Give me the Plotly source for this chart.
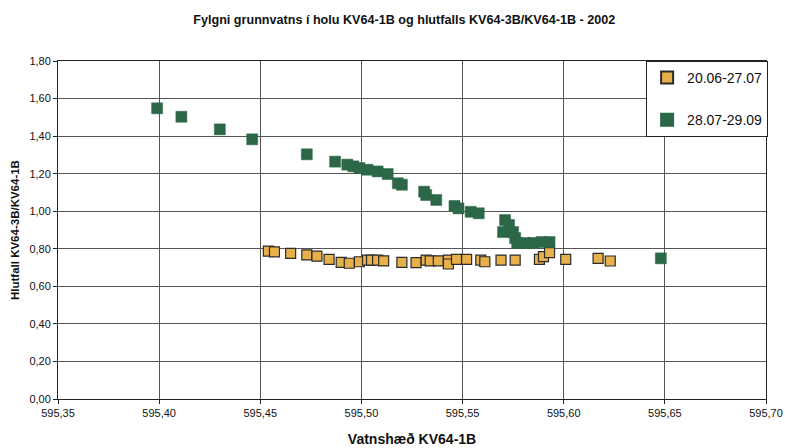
import plotly.graph_objects as go

# 20.06-27.07 series
x_jun = [595.454, 595.457, 595.465, 595.473, 595.478, 595.484, 595.490, 595.494, 595.499,
         595.503, 595.505, 595.508, 595.511, 595.520, 595.527, 595.532, 595.534, 595.538,
         595.543, 595.543, 595.547, 595.552, 595.559, 595.561, 595.569, 595.576, 595.588,
         595.590, 595.593, 595.601, 595.617, 595.623]
y_jun = [0.787, 0.784, 0.776, 0.767, 0.761, 0.744, 0.728, 0.723, 0.731,
         0.740, 0.740, 0.740, 0.736, 0.728, 0.726, 0.740, 0.736, 0.736,
         0.740, 0.719, 0.744, 0.744, 0.740, 0.731, 0.740, 0.740, 0.744,
         0.758, 0.779, 0.744, 0.749, 0.735]

# 28.07-29.09 series
x_sep = [595.399, 595.411, 595.430, 595.446, 595.473, 595.487, 595.493, 595.496, 595.499,
         595.503, 595.508, 595.513, 595.518, 595.520, 595.531, 595.532, 595.537, 595.546,
         595.548, 595.554, 595.558, 595.571, 595.573, 595.570, 595.575, 595.576, 595.577,
         595.581, 595.585, 595.589, 595.593, 595.648]
y_sep = [1.548, 1.503, 1.436, 1.383, 1.303, 1.264, 1.248, 1.239, 1.230,
         1.221, 1.212, 1.198, 1.149, 1.141, 1.104, 1.086, 1.060, 1.028,
         1.015, 0.997, 0.989, 0.953, 0.927, 0.889, 0.889, 0.857, 0.831,
         0.831, 0.831, 0.836, 0.836, 0.749]

title = "Fylgni grunnvatns í holu KV64-1B og hlutfalls KV64-3B/KV64-1B - 2002"
x_title = "Vatnshæð KV64-1B"
y_title = "Hlutfall KV64-3B/KV64-1B"

FONT = "Liberation Sans, Arial, sans-serif"

fig = go.Figure()
fig.add_trace(go.Scatter(
    x=x_jun, y=y_jun, mode="markers", name="20.06-27.07", legendgroup="a",
    marker=dict(symbol="square", size=10, color="#E8B04A",
                line=dict(color="#2b2b2b", width=1.2)),
))
fig.add_trace(go.Scatter(
    x=x_sep, y=y_sep, mode="markers", name="28.07-29.09", legendgroup="b",
    marker=dict(symbol="square", size=11, color="#2C6847",
                line=dict(color="#2C6847", width=0.5)),
))

fig.update_layout(
    width=785, height=448,
    margin=dict(l=58, r=19, t=61, b=49),
    paper_bgcolor="white", plot_bgcolor="white",
    separators=", ",
    font=dict(family=FONT, size=11, color="#111"),
    title=dict(text="<b>" + title + "</b>", x=0.515, xanchor="center",
               y=1 - 20 / 448, yanchor="middle", font=dict(size=12.6, family=FONT)),
    showlegend=True,
    legend=dict(x=1.003, xanchor="right", y=1, yanchor="top",
                bgcolor="white", bordercolor="#222", borderwidth=1,
                font=dict(size=14, family=FONT), tracegroupgap=21,
                traceorder="grouped", itemsizing="constant", itemwidth=30),
    annotations=[dict(text="<b>" + y_title + "</b>", textangle=-90,
                      xref="paper", yref="paper", x=-0.0607, y=0.5,
                      xanchor="center", yanchor="middle", showarrow=False,
                      font=dict(size=11.5, family=FONT))],
)
fig.update_xaxes(
    range=[595.35, 595.70], dtick=0.05, tick0=595.35, tickformat=".2f",
    showgrid=True, gridcolor="#555", gridwidth=1, automargin=False,
    showline=True, linecolor="#222", linewidth=1, mirror=True,
    ticks="outside", ticklen=4, tickcolor="#222", zeroline=False,
    tickfont=dict(size=11), ticklabeloverflow="allow",
    title=dict(text="<b>" + x_title + "</b>", font=dict(size=14), standoff=15),
)
fig.update_yaxes(
    range=[0, 1.8], dtick=0.2, tickformat=".2f",
    showgrid=True, gridcolor="#555", gridwidth=1, automargin=False,
    showline=True, linecolor="#222", linewidth=1, mirror=True,
    ticks="outside", ticklen=4, tickcolor="#222", zeroline=False,
    tickfont=dict(size=11),
)

fig.write_html(
    "out.html",
    config={"displayModeBar": False},
    post_script="document.body.style.margin='0';document.body.style.overflow='hidden';",
)
